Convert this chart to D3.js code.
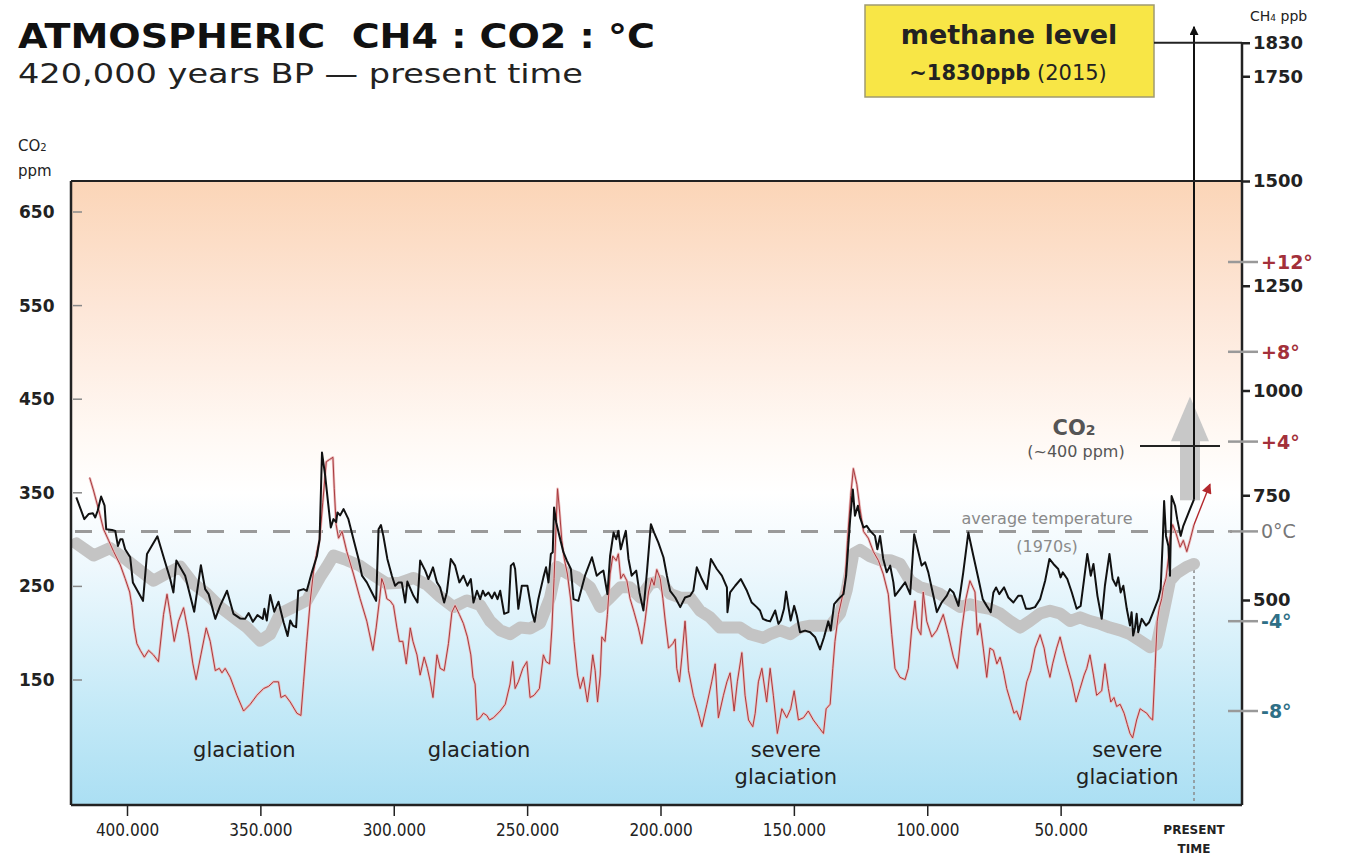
<!DOCTYPE html>
<html><head><meta charset="utf-8">
<script src="https://cdn.jsdelivr.net/npm/d3@7/dist/d3.min.js"></script>
<style>
 body{margin:0;background:#fff;}
 svg text{font-family:"DejaVu Sans",Verdana,sans-serif;}
</style></head><body>
<svg id="chart" width="1347" height="857"></svg>
<script>
// ice core records, [thousand years BP, value]
var ch4 = [[419,745],[416,693],[414.4,705],[412.8,707],[411.9,697],[411,713],[409.7,747],[408.4,725],[407.8,669],[405.6,667],[404.4,665],[403.4,629],[402.5,645],[401.7,645],[400.7,621],[398.8,602],[397.8,542],[394,498],[392.5,610],[388.6,652],[385.7,590],[383.8,550],[382.6,518],[381.5,594],[378.2,558],[374.8,472],[372.3,583],[370.7,526],[369.4,514],[366.9,455],[365.1,486],[362.5,522],[360.1,467],[357.6,456],[355.7,455],[354.4,469],[352.8,448],[351.1,464],[349.1,455],[348.5,479],[347.6,451],[346.3,512],[344.8,472],[343.2,496],[341.3,447],[339.8,414],[338.8,451],[337.8,439],[336.6,435],[335.8,522],[333.8,526],[332.6,522],[330.7,566],[328.8,605],[327.8,645],[326.9,852],[325.7,796],[324.5,725],[323.6,673],[322.6,693],[321.6,686],[321.1,709],[320.1,702],[318.8,717],[317,693],[315.1,645],[313.2,598],[311.9,558],[310.1,542],[308.2,518],[306.6,498],[305.7,669],[304.8,679],[303.9,653],[302.4,598],[300.7,558],[299.5,534],[298.2,542],[297,542],[295.7,494],[294.9,544],[292.6,510],[291.1,494],[290.1,594],[288.2,570],[287,550],[285.3,578],[283.8,542],[282.6,530],[281.1,494],[280.1,518],[278.6,598],[277,582],[275.4,542],[273.9,558],[272.4,534],[271.1,550],[270.1,494],[268.8,522],[267.6,502],[266.6,522],[265.7,510],[264.5,518],[263.2,504],[262.2,518],[261.1,502],[260.1,522],[258.6,467],[257,471],[256.1,582],[255.1,588],[254.5,574],[253.3,479],[252,534],[249.9,534],[248.2,471],[247.2,448],[245.8,502],[243.9,554],[242.9,578],[242,542],[241.1,610],[240.4,614],[239.9,721],[239.1,685],[237.6,645],[236.4,614],[235.1,594],[233.6,574],[232.6,502],[230.8,498],[228.3,558],[225.7,602],[223.9,558],[222.4,566],[221.4,570],[219.9,514],[218.9,605],[217.6,661],[216.6,645],[215.8,665],[214.9,621],[213.9,645],[213,665],[212,598],[210.8,558],[209.1,570],[207.9,518],[206.4,475],[205.1,566],[203.6,681],[202.4,661],[200.8,637],[198.9,602],[197.6,558],[196.4,522],[194.5,506],[192.6,483],[190.8,506],[188.9,510],[187.7,522],[186.4,578],[184.5,550],[182.6,526],[181.1,598],[178.9,574],[177,558],[175.1,530],[174.9,471],[173.9,518],[172,534],[169.9,550],[167.6,522],[165.8,494],[163.9,483],[162.7,475],[161.6,455],[160.2,451],[158.9,449],[157,475],[155.8,443],[154.9,451],[153.7,479],[152.9,520],[152.1,486],[151.2,451],[149.9,486],[148.9,463],[147.7,423],[145.8,427],[143.9,423],[142,411],[140.2,382],[138.7,411],[137.1,449],[136.2,427],[134.9,490],[133.3,502],[131.4,514],[130.4,558],[128.9,693],[127.9,764],[127.1,701],[126,725],[125.2,697],[123.9,673],[122.7,677],[121.4,665],[119.6,653],[118.7,621],[117.7,653],[116.5,598],[115.2,566],[113.9,582],[112.7,542],[112.1,510],[110.2,526],[108.3,542],[106.4,514],[104.9,657],[103.3,614],[102.1,582],[100.8,590],[99.6,566],[97.7,510],[96.4,471],[94.6,494],[92.7,510],[91.5,526],[90.2,518],[88.3,486],[86.5,566],[84.6,661],[82.7,605],[80.8,550],[79.2,502],[77.7,486],[76.2,471],[75.2,518],[74.2,530],[73,514],[71.2,530],[69.6,506],[67.7,494],[65.9,510],[64.6,510],[63,479],[61.5,479],[59.6,483],[57.7,502],[55.8,546],[54.2,598],[52.7,586],[50.9,574],[50,554],[49.2,566],[47.5,550],[45.8,518],[44,479],[42.5,486],[41.2,550],[40,610],[38.7,558],[37.7,586],[36.2,510],[34.6,455],[33.4,534],[31.7,610],[30.5,550],[29.2,534],[28.4,554],[27.5,518],[26.5,534],[25.2,479],[24,439],[23.4,471],[22.8,415],[22.1,435],[21.5,467],[20.9,423],[19.6,455],[18,439],[16.8,447],[15.3,471],[13.4,502],[12.5,526],[11.7,645],[11.2,736],[10.5,653],[9.6,629],[9,558],[8.4,748],[7.1,725],[6.3,693],[5,653],[4,677],[2.5,701],[1.5,717],[0,740]];

var temp = [[414,2.4],[412.5,1.8],[410.7,1.0],[408.8,0.1],[406.9,-0.4],[405,-0.9],[402.5,-1.5],[400.7,-2.1],[399,-2.7],[398.2,-3.3],[397.3,-4.3],[396.3,-5.0],[395,-5.3],[393.5,-5.6],[391.9,-5.3],[390.1,-5.5],[388.2,-5.8],[386.3,-3.7],[385,-2.8],[383.8,-3.7],[382.3,-4.9],[380.7,-4.0],[378.8,-3.4],[376.9,-4.6],[375.3,-5.9],[374.1,-6.6],[372.3,-5.5],[370.3,-4.3],[368.8,-4.9],[366.9,-6.2],[365.4,-6.1],[364.4,-6.3],[363.2,-6.1],[361.3,-6.5],[358.8,-7.3],[356.3,-8.0],[353.8,-7.7],[351.3,-7.3],[348.8,-7.0],[346.9,-6.9],[345.1,-6.7],[343.2,-6.7],[342.3,-7.4],[340.7,-7.3],[338.8,-7.6],[336.3,-8.1],[334.8,-8.2],[333.8,-6.7],[332.6,-4.9],[331.3,-3.1],[330.1,-1.8],[328.8,-0.9],[327.8,-0.4],[326.6,1.3],[325.3,3.1],[324.1,3.2],[322.8,3.3],[322.3,1.9],[321.6,0.3],[320.7,-0.3],[319.4,0.0],[317.6,-0.9],[315.1,-1.9],[312.6,-3.0],[310.1,-4.0],[307.8,-5.3],[306.6,-4.3],[305.3,-3.0],[304.5,-2.1],[303.6,-2.4],[302.6,-3.0],[301.3,-3.1],[300.1,-3.3],[298.8,-4.3],[297.9,-4.9],[296.6,-4.9],[295.3,-5.9],[293.8,-4.3],[292.8,-4.9],[291.3,-5.5],[290.1,-6.4],[288.6,-5.6],[287.4,-6.1],[286.3,-6.7],[285.3,-7.4],[283.8,-5.5],[282.6,-6.1],[281.1,-6.2],[279.5,-5.0],[278.2,-3.6],[277,-3.3],[275.4,-3.7],[273.9,-4.1],[272.4,-4.7],[271.1,-5.5],[270.3,-6.5],[269.5,-6.8],[268.8,-8.4],[267.6,-8.3],[266.4,-8.1],[265.1,-8.2],[264.1,-8.4],[262.6,-8.3],[260.1,-8.0],[258.2,-7.7],[256.4,-6.8],[255.4,-5.8],[254.5,-7.0],[253.3,-6.7],[251.6,-6.1],[250.1,-5.8],[248.9,-7.4],[247.4,-7.3],[245.4,-7.0],[243.9,-5.5],[242.9,-5.8],[241.6,-5.9],[240.7,-4.3],[239.9,-2.1],[239.1,0.4],[238.6,1.9],[237.9,1.0],[237,-0.4],[236.1,-1.2],[234.9,-1.9],[233.6,-3.1],[232.4,-4.9],[231.1,-6.4],[230.1,-7.0],[228.9,-6.5],[227.4,-7.6],[226.4,-6.7],[225.4,-5.5],[224.5,-6.2],[223.6,-7.6],[222.6,-6.4],[222,-4.7],[220.8,-4.9],[219.9,-3.7],[218.9,-1.9],[217.9,-1.1],[216.6,-1.3],[215.8,-1.0],[214.9,-2.1],[213.9,-1.9],[212.6,-2.2],[211.4,-3.0],[209.9,-3.6],[208.3,-4.3],[207,-5.0],[205.8,-4.0],[204.5,-2.7],[203.3,-2.1],[202.4,-2.4],[201.4,-1.7],[200.1,-2.1],[199.1,-3.0],[198.3,-3.9],[197,-5.2],[195.4,-5.0],[194.5,-4.8],[193.9,-6.1],[192.9,-6.7],[192,-5.6],[190.8,-4.0],[189.5,-6.2],[187.7,-7.3],[185.8,-8.1],[184.5,-8.7],[182.6,-7.7],[180.8,-6.7],[179.5,-5.9],[178.3,-8.3],[176.4,-7.3],[175.1,-6.7],[173.9,-6.3],[172.4,-8.0],[171.2,-6.7],[169.5,-5.4],[168.3,-7.3],[167,-8.4],[165.4,-8.7],[164.5,-8.1],[163.3,-6.7],[162,-6.1],[160.2,-7.6],[158.9,-6.1],[157.7,-7.3],[156.2,-9.0],[154.5,-7.9],[152.7,-8.3],[151.2,-7.9],[149.9,-7.1],[148.3,-8.4],[146.4,-8.3],[144.6,-8.0],[142.7,-8.4],[140.8,-8.7],[138.9,-9.0],[137.9,-7.9],[136.4,-7.7],[135.4,-6.1],[134.6,-4.9],[133.3,-3.7],[132,-3.0],[130.8,-2.2],[129.9,-0.4],[128.7,1.6],[127.7,2.8],[126.4,2.1],[125.2,1.0],[123.9,0.0],[122.1,-0.3],[120.2,-0.9],[118.3,-1.3],[116.5,-1.9],[114.6,-2.8],[113.3,-4.6],[112.1,-6.1],[110.2,-6.5],[108.3,-6.6],[107.1,-6.1],[105.8,-4.3],[104.6,-3.1],[103.7,-4.3],[102.4,-4.6],[101.5,-2.7],[100.2,-4.0],[98.3,-4.7],[96.4,-4.4],[94,-3.7],[92.1,-4.6],[90.2,-5.6],[88.7,-6.1],[87.1,-4.4],[85.5,-3.0],[84,-2.2],[82.1,-2.7],[81.2,-4.6],[80.2,-4.1],[79,-5.2],[77.7,-6.5],[76.5,-5.2],[75.2,-5.3],[73.9,-5.9],[72.7,-5.6],[71.5,-6.2],[70.2,-7.0],[68.7,-7.6],[67.5,-8.1],[66.5,-8.0],[65.2,-8.4],[64,-7.6],[62.7,-6.7],[61.2,-6.2],[59.6,-5.2],[57.7,-4.6],[56.2,-5.2],[55.2,-5.9],[54,-6.5],[53,-5.9],[51.5,-5.2],[50.2,-4.7],[49,-5.3],[47.7,-5.9],[45.8,-6.7],[44.2,-7.6],[42.7,-7.0],[41.2,-6.4],[40.2,-6.1],[39,-5.5],[37.7,-6.4],[36.5,-7.3],[34.6,-7.1],[33.4,-5.9],[32.1,-7.0],[31.2,-7.6],[30,-7.4],[29,-7.8],[27.7,-7.7],[26.2,-8.1],[25,-8.6],[24,-9.0],[23,-9.2],[21.5,-8.4],[20.2,-7.9],[19,-8.0],[17.7,-8.1],[16.5,-8.3],[15.5,-8.4],[14.6,-6.1],[13.8,-4.0],[13,-3.4],[12.1,-3.0],[11.5,-2.5],[10.5,-2.1],[9.6,-1.2],[9,-0.3],[8,0.3],[6.7,-0.1],[5.2,-0.7],[4,-0.4],[2.7,-0.9],[1.5,-0.4],[0,0.3]];

var co2 = [[419,296],[412.5,283],[406.3,291],[400,278],[393.8,264],[390.1,256],[385,264],[380,271],[375.1,253],[370,242],[365.1,228],[360.1,217],[355,206],[350.1,192],[346.3,199],[342.6,221],[337.6,228],[332.6,235],[327.6,260],[325.1,271],[322.6,283],[317.6,278],[312.6,272],[307.6,262],[302.6,253],[297.6,254],[292.6,259],[287.6,252],[282.6,239],[277.6,228],[272.6,235],[267.6,230],[263.9,213],[260.1,203],[256.4,199],[252.6,206],[248.9,205],[245.1,211],[241.4,238],[238.9,271],[235.1,264],[231.4,260],[226.4,249],[222.6,228],[218.9,238],[215.1,249],[211.4,249],[207.6,238],[203.9,253],[200.1,256],[196.4,242],[192.6,238],[188.9,238],[185.2,224],[181.4,217],[177.7,206],[173.9,206],[170.2,206],[166.4,199],[161.4,195],[158.9,199],[155.2,203],[151.4,199],[147.7,206],[143.9,208],[136.4,208],[132.7,221],[130.2,246],[127.7,285],[125.2,289],[121.4,282],[117.7,278],[113.9,278],[110.2,274],[106.4,256],[102.7,249],[98.9,246],[95.2,242],[91.5,235],[87.7,228],[84,231],[80.2,228],[76.5,226],[72.7,221],[69,213],[65.2,206],[61.5,213],[57.7,221],[54,224],[50.2,221],[46.5,213],[42.7,217],[39,213],[35.2,210],[31.5,206],[27.7,203],[24,199],[20.2,192],[16.5,185],[14,188],[11.5,221],[9,256],[6.5,264],[2.7,271],[0,274]];

var xTicks = [400, 350, 300, 250, 200, 150, 100, 50];
var co2Ticks = [150, 250, 350, 450, 550, 650];
var ch4Ticks = [500, 750, 1000, 1250, 1500, 1750, 1830];
var tempTicks = [-8, -4, 0, 4, 8, 12];
var ch4Now = 1830, co2Now = 400, tempArrowEnd = [-6, 2.1];

var svg = d3.select("#chart");
var pLeft = 71, pRight = 1242, pTop = 181, pBottom = 805;

var x = d3.scaleLinear().domain([400, 0]).range([127, 1194]);
var yCo2 = d3.scaleLinear().domain([150, 650]).range([680, 212]);
var yCh4 = d3.scaleLinear().domain([500, 1500]).range([600, 181]);
var yT = d3.scaleLinear().domain([-8, 12]).range([711, 262]);

var defs = svg.append("defs");
var grad = defs.append("linearGradient").attr("id", "bg").attr("x1", 0).attr("y1", 0).attr("x2", 0).attr("y2", 1);
[["0%", "#fbd5b7"], ["20%", "#fde6d7"], ["40%", "#fff8f3"], ["50%", "#ffffff"], ["62%", "#eef8fd"], ["85%", "#c3e9f7"], ["100%", "#abdff3"]]
  .forEach(function(s){ grad.append("stop").attr("offset", s[0]).attr("stop-color", s[1]); });
function marker(id, col, w, h){
  defs.append("marker").attr("id", id).attr("viewBox", "0 0 10 10").attr("refX", 9).attr("refY", 5)
    .attr("markerWidth", w).attr("markerHeight", h).attr("orient", "auto").attr("markerUnits", "userSpaceOnUse")
    .append("path").attr("d", "M0,0L10,5L0,10z").attr("fill", col);
}
marker("blackHead", "#111", 16, 9);
marker("redHead", "#b3282d", 12, 10);

svg.append("rect").attr("x", pLeft).attr("y", pTop).attr("width", pRight - pLeft).attr("height", pBottom - pTop).attr("fill", "url(#bg)");

// titles
svg.append("text").attr("x", 18).attr("y", 48).attr("font-size", 33).attr("font-weight", "bold").attr("fill", "#111")
  .attr("textLength", 637).attr("lengthAdjust", "spacingAndGlyphs").style("white-space", "pre")
  .text("ATMOSPHERIC  CH4 : CO2 : °C");
svg.append("text").attr("x", 18).attr("y", 83).attr("font-size", 27).attr("fill", "#222")
  .attr("textLength", 565).attr("lengthAdjust", "spacingAndGlyphs")
  .text("420,000 years BP — present time");

var co2Lab = svg.append("text").attr("x", 18).attr("y", 151).attr("font-size", 15).attr("fill", "#222");
co2Lab.append("tspan").text("CO");
co2Lab.append("tspan").attr("font-size", 10).text("2");
svg.append("text").attr("x", 18).attr("y", 176).attr("font-size", 15).attr("fill", "#222").text("ppm");

var ch4Lab = svg.append("text").attr("x", 1250).attr("y", 21).attr("font-size", 14).attr("fill", "#222");
ch4Lab.append("tspan").text("CH");
ch4Lab.append("tspan").attr("font-size", 9).text("4");
ch4Lab.append("tspan").text(" ppb");

// average temperature reference
svg.append("line").attr("x1", 75).attr("x2", 1232).attr("y1", yT(0)).attr("y2", yT(0))
  .attr("stroke", "#9a9a9a").attr("stroke-width", 3).attr("stroke-dasharray", "17,16");

// present time marker
svg.append("line").attr("x1", x(0)).attr("x2", x(0)).attr("y1", yCo2(274)).attr("y2", pBottom)
  .attr("stroke", "#8a8a8a").attr("stroke-width", 1.5).attr("stroke-dasharray", "3,3");

// CO2 band and arrow
svg.append("path").datum(co2).attr("fill", "none").attr("stroke", "#c4c4c4").attr("stroke-width", 12)
  .attr("stroke-linejoin", "round").attr("stroke-linecap", "round")
  .attr("d", d3.line().x(function(d){ return x(d[0]); }).y(function(d){ return yCo2(d[1]); }));
var ax = x(1.5);
svg.append("rect").attr("x", ax - 10).attr("y", yCo2(406)).attr("width", 20).attr("height", yCo2(342) - yCo2(406)).attr("fill", "#c8c8c8");
svg.append("path").attr("fill", "#c8c8c8")
  .attr("d", "M" + (ax - 19) + "," + yCo2(405) + "L" + ax + "," + yCo2(453) + "L" + (ax + 19) + "," + yCo2(405) + "Z");

// temperature
svg.append("path").datum(temp).attr("fill", "none").attr("stroke", "#ecbcbc").attr("stroke-width", 2.6).attr("stroke-linejoin", "round")
  .attr("d", d3.line().x(function(d){ return x(d[0]); }).y(function(d){ return yT(d[1]); }));
svg.append("path").datum(temp).attr("fill", "none").attr("stroke", "#a83a3e").attr("stroke-width", 1).attr("stroke-linejoin", "round")
  .attr("d", d3.line().x(function(d){ return x(d[0]); }).y(function(d){ return yT(d[1]); }));
svg.append("line").attr("x1", x(0)).attr("y1", yT(0.3)).attr("x2", x(tempArrowEnd[0])).attr("y2", yT(tempArrowEnd[1]))
  .attr("stroke", "#b3282d").attr("stroke-width", 1.4).attr("marker-end", "url(#redHead)");

// methane
svg.append("path").datum(ch4).attr("fill", "none").attr("stroke", "#111").attr("stroke-width", 2).attr("stroke-linejoin", "round")
  .attr("d", d3.line().x(function(d){ return x(d[0]); }).y(function(d){ return yCh4(d[1]); }));
svg.append("line").attr("x1", x(0)).attr("x2", x(0)).attr("y1", yCh4(740)).attr("y2", yCh4(1868))
  .attr("stroke", "#111").attr("stroke-width", 2).attr("marker-end", "url(#blackHead)");

// frame
svg.append("line").attr("x1", pLeft).attr("x2", pRight).attr("y1", pTop).attr("y2", pTop).attr("stroke", "#222").attr("stroke-width", 2);
svg.append("line").attr("x1", pLeft).attr("x2", pRight).attr("y1", pBottom).attr("y2", pBottom).attr("stroke", "#222").attr("stroke-width", 2.5);
svg.append("line").attr("x1", pLeft).attr("x2", pLeft).attr("y1", pTop).attr("y2", pBottom).attr("stroke", "#222").attr("stroke-width", 2.5);
svg.append("line").attr("x1", pRight).attr("x2", pRight).attr("y1", yCh4(ch4Now)).attr("y2", pBottom).attr("stroke", "#222").attr("stroke-width", 2.5);

// left axis (CO2)
var gl = svg.append("g");
gl.selectAll("line").data(co2Ticks).enter().append("line")
  .attr("x1", pLeft + 2).attr("x2", pLeft + 11).attr("y1", yCo2).attr("y2", yCo2).attr("stroke", "#888").attr("stroke-width", 1.5);
gl.selectAll("text").data(co2Ticks).enter().append("text")
  .attr("x", 19).attr("y", function(d){ return yCo2(d) + 6; }).attr("font-size", 17).attr("font-weight", "bold").attr("fill", "#222")
  .text(function(d){ return d; });

// right axis (CH4)
var gr = svg.append("g").attr("transform", "translate(" + pRight + ",0)")
  .call(d3.axisRight(yCh4).tickValues(ch4Ticks).tickSize(8).tickPadding(3).tickFormat(d3.format("d")));
gr.select(".domain").remove();
gr.selectAll(".tick line").attr("stroke", "#222").attr("stroke-width", 2.5);
gr.selectAll(".tick text").attr("font-size", 18).attr("font-weight", "bold").attr("fill", "#222").attr("font-family", "DejaVu Sans");

// temperature scale
var gt = svg.append("g");
gt.selectAll("line").data(tempTicks).enter().append("line")
  .attr("x1", 1228).attr("x2", 1258).attr("y1", yT).attr("y2", yT).attr("stroke", "#999").attr("stroke-width", 2.5);
gt.selectAll("text").data(tempTicks).enter().append("text")
  .attr("x", 1261).attr("y", function(d){ return yT(d) + 7; }).attr("font-size", 19).attr("font-weight", function(d){ return d === 0 ? "normal" : "bold"; })
  .attr("fill", function(d){ return d > 0 ? "#a3303a" : d < 0 ? "#2f6f86" : "#777"; })
  .text(function(d){ return d > 0 ? "+" + d + "°" : d < 0 ? d + "°" : "0°C"; });

// bottom axis
var gb = svg.append("g").attr("transform", "translate(0," + pBottom + ")")
  .call(d3.axisBottom(x).tickValues(xTicks).tickSize(11).tickPadding(8)
    .tickFormat(function(d){ return d3.format(",")(d * 1000).replace(/,/g, "."); }));
gb.select(".domain").remove();
gb.selectAll(".tick line").attr("stroke", "#222").attr("stroke-width", 1.5);
gb.selectAll(".tick text").attr("font-size", 17).attr("fill", "#222").attr("font-family", "DejaVu Sans Condensed").attr("font-stretch", "condensed");
svg.append("text").attr("x", x(0)).attr("y", 834).attr("text-anchor", "middle").attr("font-size", 12).attr("font-weight", "bold")
  .attr("font-family", "DejaVu Sans Condensed").attr("fill", "#222").text("PRESENT");
svg.append("text").attr("x", x(0)).attr("y", 853).attr("text-anchor", "middle").attr("font-size", 12).attr("font-weight", "bold")
  .attr("font-family", "DejaVu Sans Condensed").attr("fill", "#222").text("TIME");

// glaciation labels
var glac = [[356, ["glaciation"]], [268, ["glaciation"]], [153, ["severe", "glaciation"]], [25, ["severe", "glaciation"]]];
glac.forEach(function(g){
  g[1].forEach(function(t, i){
    svg.append("text").attr("x", x(g[0])).attr("y", 757 + i * 27).attr("text-anchor", "middle").attr("font-size", 21).attr("fill", "#222").text(t);
  });
});

// annotations
svg.append("text").attr("x", 1047).attr("y", 524).attr("text-anchor", "middle").attr("font-size", 16).attr("fill", "#8a8a8a").text("average temperature");
svg.append("text").attr("x", 1047).attr("y", 552).attr("text-anchor", "middle").attr("font-size", 16).attr("fill", "#8a8a8a").text("(1970s)");

var co2t = svg.append("text").attr("x", 1074).attr("y", 435).attr("text-anchor", "middle").attr("font-size", 21).attr("font-weight", "bold")
  .attr("font-family", "DejaVu Serif").attr("fill", "#555");
co2t.append("tspan").text("CO");
co2t.append("tspan").attr("font-size", 14).text("2");
svg.append("text").attr("x", 1076).attr("y", 457).attr("text-anchor", "middle").attr("font-size", 16).attr("fill", "#555").text("(~400 ppm)");
svg.append("line").attr("x1", 1140).attr("x2", 1220).attr("y1", yCo2(co2Now)).attr("y2", yCo2(co2Now)).attr("stroke", "#222").attr("stroke-width", 2);

// methane callout
svg.append("rect").attr("x", 865).attr("y", 5).attr("width", 289).attr("height", 92).attr("fill", "#f8e646").attr("stroke", "#a09a70").attr("stroke-width", 1.5);
svg.append("text").attr("x", 1009).attr("y", 44).attr("text-anchor", "middle").attr("font-size", 27).attr("font-weight", "bold").attr("fill", "#222").text("methane level");
var ml = svg.append("text").attr("x", 1008).attr("y", 80).attr("text-anchor", "middle").attr("font-size", 21).attr("fill", "#222");
ml.append("tspan").attr("font-weight", "bold").text("~1830ppb");
ml.append("tspan").text(" (2015)");
svg.append("line").attr("x1", 1154).attr("x2", pRight).attr("y1", yCh4(ch4Now)).attr("y2", yCh4(ch4Now)).attr("stroke", "#222").attr("stroke-width", 2);
</script>
</body></html>
